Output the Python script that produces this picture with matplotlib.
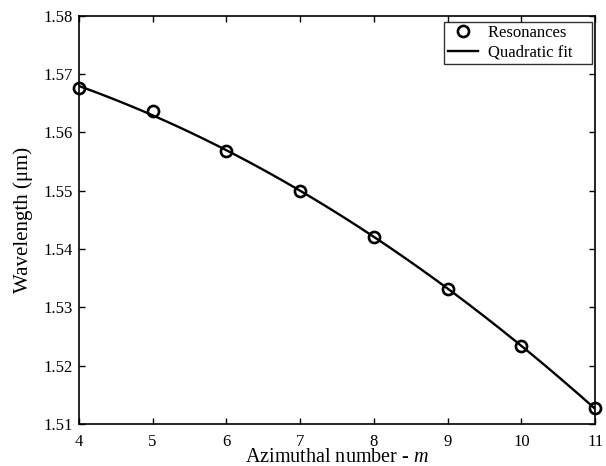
import numpy as np
import matplotlib
matplotlib.use('Agg')
import matplotlib.pyplot as plt

# resonance wavelengths
m_vals = [4, 5, 6, 7, 8, 9, 10, 11]
wavelength = [1.5676, 1.5636, 1.5569, 1.5499, 1.5420, 1.5332, 1.5234, 1.5127]
xticks = [4, 5, 6, 7, 8, 9, 10, 11]
yticks = [1.51, 1.52, 1.53, 1.54, 1.55, 1.56, 1.57, 1.58]

plt.rcParams['font.family'] = ['Liberation Serif', 'DejaVu Serif']
plt.rcParams['mathtext.fontset'] = 'custom'
plt.rcParams['mathtext.rm'] = 'Liberation Serif'
plt.rcParams['mathtext.it'] = 'Liberation Serif:italic'

# quadratic fit through the resonances
coef = np.polyfit(m_vals, wavelength, 2)
xx = np.linspace(min(m_vals), max(m_vals), 200)
yy = np.polyval(coef, xx)

fig = plt.figure(figsize=(6.06, 4.66), dpi=100)
ax = fig.add_axes([0.130, 0.090, 0.852, 0.876])

ax.plot(m_vals, wavelength, 'o', mfc='none', mec='black', mew=1.9, ms=8,
        label='Resonances    ', zorder=3, clip_on=False)
ax.plot(xx, yy, '-', color='black', lw=1.7, label='Quadratic fit    ')

ax.set_xlim(4, 11)
ax.set_ylim(1.51, 1.58)
ax.set_xticks(xticks)
ax.set_yticks(yticks)
ax.set_yticklabels(['%.2f' % v for v in yticks])
ax.tick_params(direction='in', top=True, right=True, length=4, width=1,
               labelsize=12)
ax.tick_params(axis='x', pad=7)
ax.tick_params(axis='y', pad=4)
for s in ax.spines.values():
    s.set_linewidth(1.2)

ax.set_xlabel('Azimuthal number - $m$', fontsize=14.5, labelpad=-1)
ax.set_ylabel('Wavelength (\u03bcm)', fontsize=15, labelpad=8)

leg = ax.legend(loc='upper right', fontsize=12, frameon=True, fancybox=False,
                edgecolor='black', handlelength=1.8, handletextpad=0.6,
                borderpad=0.2, labelspacing=0.2, borderaxespad=0,
                bbox_to_anchor=(0.994, 0.985))
leg.get_frame().set_linewidth(1.0)

fig.savefig('out.png', dpi=100)
